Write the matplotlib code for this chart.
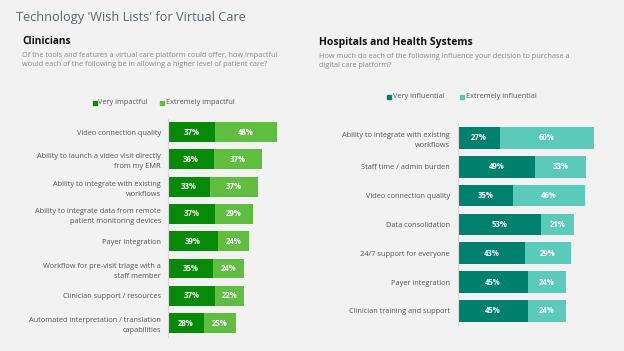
import matplotlib
matplotlib.use("Agg")
import matplotlib.pyplot as plt
from matplotlib.patches import Rectangle

plt.rcParams['font.family'] = ['Open Sans', 'DejaVu Sans']

# ---- data ----
clin_labels = [
    "Video connection quality",
    "Ability to launch a video visit directly\nfrom my EMR",
    "Ability to integrate with existing\nworkflows",
    "Ability to integrate data from remote\npatient monitoring devices",
    "Payer integration",
    "Workflow for pre-visit triage with a\nstaff member",
    "Clinician support / resources",
    "Automated interpretation / translation\ncapabilities",
]
clin_very = [37, 36, 33, 37, 39, 35, 37, 28]
clin_extreme = [48, 37, 37, 29, 24, 24, 22, 25]

hosp_labels = [
    "Ability to integrate with existing\nworkflows",
    "Staff time / admin burden",
    "Video connection quality",
    "Data consolidation",
    "24/7 support for everyone",
    "Payer integration",
    "Clinician training and support",
]
hosp_very = [27, 49, 35, 53, 43, 45, 45]
hosp_extreme = [60, 33, 46, 21, 29, 24, 24]

clin_legend = ["Very impactful", "Extremely impactful"]
hosp_legend = ["Very influential", "Extremely influential"]

C_DARK_G = "#078a07"
C_LIGHT_G = "#5fbd3f"
C_DARK_T = "#00816f"
C_LIGHT_T = "#5ccabb"
BG = "#f2f2f2"

W, H = 624, 351
fig = plt.figure(figsize=(W / 100, H / 100), dpi=100, facecolor=BG)


def fx(px):
    return px / W


def fy(py):
    return 1 - py / H


# titles
fig.text(fx(16), fy(18), "Technology 'Wish Lists' for Virtual Care", fontsize=9.15,
         color="#5b6670", va="center", ha="left")
fig.text(fx(22), fy(42), "Clinicians", fontsize=7.3, fontweight="bold",
         color="#111111", va="center", ha="left")
fig.text(fx(22), fy(60),
         "Of the tools and features a virtual care platform could offer, how impactful\n"
         "would each of the following be in allowing a higher level of patient care?",
         fontsize=5.27, color="#8a8a8a", va="center", ha="left", linespacing=1.35)
fig.text(fx(319), fy(42), "Hospitals and Health Systems", fontsize=7.5, fontweight="bold",
         color="#111111", va="center", ha="left")
fig.text(fx(319), fy(61),
         "How much do each of the following influence your decision to purchase a\n"
         "digital care platform?",
         fontsize=5.27, color="#8a8a8a", va="center", ha="left", linespacing=1.5)


def legend(x0, x1, y, names, cols):
    for x, n, c in zip((x0, x1), names, cols):
        fig.patches.append(Rectangle((fx(x), fy(y + 2)), 4 / W, 4 / H,
                                     transform=fig.transFigure, color=c))
        fig.text(fx(x + 6), fy(y), n, fontsize=5.3, color="#595959",
                 va="center", ha="left")


legend(92.5, 160.5, 103, clin_legend, [C_DARK_G, C_LIGHT_G])
legend(387, 460, 97, hosp_legend, [C_DARK_T, C_LIGHT_T])


def panel(rect, labels, v1, v2, c1, c2, ylim, bh, pad):
    ax = fig.add_axes(rect)
    ax.set_facecolor(BG)
    y = list(range(len(labels)))
    ax.barh(y, v1, height=bh, color=c1, linewidth=0)
    ax.barh(y, v2, left=v1, height=bh, color=c2, linewidth=0)
    for yi, a, b in zip(y, v1, v2):
        ax.text(a / 2, yi, f"{a}%", color="white", fontsize=5.6, fontweight="bold",
                ha="center", va="center")
        ax.text(a + b / 2, yi, f"{b}%", color="white", fontsize=5.6, fontweight="bold",
                ha="center", va="center")
    ax.set_xlim(0, 100)
    ax.set_ylim(*ylim)
    ax.set_yticks(y)
    ax.set_yticklabels(labels, fontsize=5.3, color="#555555", linespacing=1.6)
    ax.tick_params(axis="y", length=0, pad=pad)
    ax.set_xticks([])
    for s in ("top", "right", "bottom"):
        ax.spines[s].set_visible(False)
    ax.spines["left"].set_color("#d9d9d9")
    ax.spines["left"].set_linewidth(0.8)
    return ax


panel([fx(168), fy(337), 128.2 / W, 218 / H], clin_labels, clin_very, clin_extreme,
      C_DARK_G, C_LIGHT_G, (7.51, -0.48), 0.73, 5.0)
panel([fx(458), fy(325), 156.3 / W, 202 / H], hosp_labels, hosp_very, hosp_extreme,
      C_DARK_T, C_LIGHT_T, (6.49, -0.52), 0.75, 5.8)

fig.savefig("out.png", dpi=100, facecolor=BG)
